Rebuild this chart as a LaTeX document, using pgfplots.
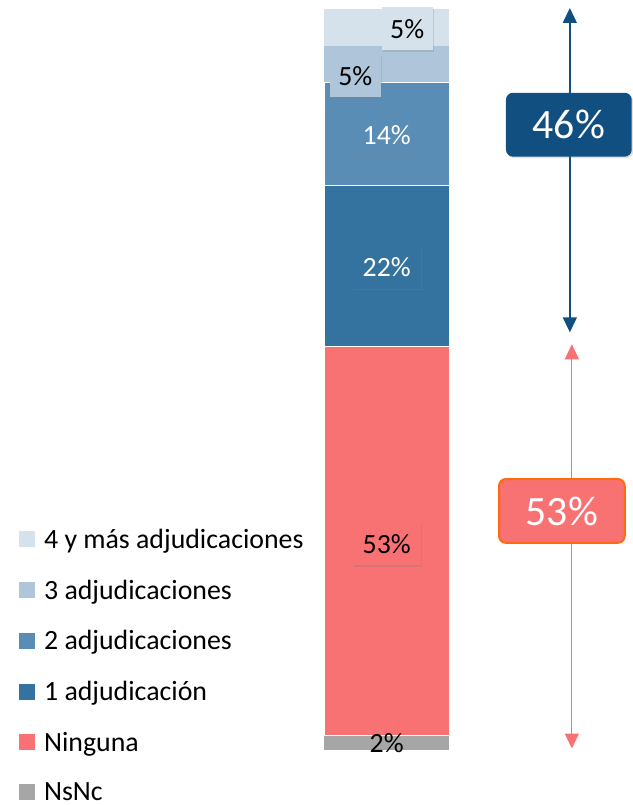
\documentclass[border=0pt]{standalone}
\usepackage{pgfplots}
\pgfplotsset{compat=1.18}
\usepackage{fontspec}
\setmainfont{Carlito}
\usetikzlibrary{arrows.meta,shadows}

\definecolor{cfour}{HTML}{D5E1EB}
\definecolor{cthree}{HTML}{AFC6DA}
\definecolor{ctwo}{HTML}{5A8DB6}
\definecolor{cone}{HTML}{34739F}
\definecolor{cnone}{HTML}{F87173}
\definecolor{cnsnc}{HTML}{A6A6A6}
\definecolor{darkbox}{HTML}{114F80}
\definecolor{orangeedge}{HTML}{FF6A10}

\begin{document}
\begin{tikzpicture}
\begin{axis}[
    scale only axis,
    width=634bp, height=805bp,
    xmin=0, xmax=634, ymin=-7.205, ymax=102.23,
    hide axis, clip=false,
    ybar stacked, bar width=125,
    legend style={draw=none, fill=none, at={(axis cs:16,30.6)}, anchor=north west,
        font=\fontsize{28}{32}\selectfont, row sep=28bp,
        nodes={inner sep=1bp},
        /tikz/every odd column/.append style={column sep=8bp}},
    legend cell align=left,
    reverse legend,
    legend image code/.code={\draw[#1,draw=none] (0bp,-8bp) rectangle (16bp,8bp);},
]
\addplot[fill=cnsnc, draw=none] coordinates {(387.5,2)};
\addlegendentry{NsNc}
\addplot[fill=cnone, draw=white, line width=0.8bp] coordinates {(387.5,53)};
\addlegendentry{Ninguna}
\addplot[fill=cone, draw=white, line width=0.8bp] coordinates {(387.5,22)};
\addlegendentry{1 adjudicación}
\addplot[fill=ctwo, draw=white, line width=0.8bp] coordinates {(387.5,14)};
\addlegendentry{2 adjudicaciones}
\addplot[fill=cthree, draw=none] coordinates {(387.5,5)};
\addlegendentry{3 adjudicaciones}
\addplot[fill=cfour, draw=none] coordinates {(387.5,5)};
\addlegendentry{4 y más adjudicaciones}

\path (axis cs:0,-7.205) rectangle (axis cs:634,102.23);

\coordinate (l4) at (axis cs:408,98.29);
\coordinate (l3) at (axis cs:356,91.90);
\coordinate (l2) at (axis cs:387.5,83.88);
\coordinate (l1) at (axis cs:387.5,65.80);
\coordinate (l0) at (axis cs:387.5,28.14);
\coordinate (ln) at (axis cs:387.5,0.95);
\coordinate (ba) at (axis cs:571,101.14);
\coordinate (bb) at (axis cs:571,56.96);
\coordinate (ra) at (axis cs:573,55.33);
\coordinate (rb) at (axis cs:573,0.27);
\coordinate (bbox) at (axis cs:570,85.24);
\coordinate (rbox) at (axis cs:563,32.63);
\end{axis}

\tikzset{lbl/.style={font=\fontsize{28}{30}\selectfont, inner sep=0pt,
    minimum height=43bp, drop shadow={opacity=0.25, shadow xshift=1.5bp, shadow yshift=-1.5bp}}}
\node[lbl, fill=cfour, minimum width=51bp] at (l4) {5\%};
\node[lbl, fill=cthree, minimum width=51bp] at (l3) {5\%};
\node[lbl, fill=ctwo, minimum width=68bp, text=white] at (l2) {14\%};
\node[lbl, fill=cone, minimum width=68bp, text=white] at (l1) {22\%};
\node[lbl, fill=cnone, minimum width=68bp] at (l0) {53\%};
\node[font=\fontsize{28}{30}\selectfont, inner sep=0pt] at (ln) {2\%};

\draw[darkbox, line width=1.5bp, {Triangle[width=14bp,length=15bp]}-{Triangle[width=14bp,length=15bp]}]
    (ba) -- (bb);
\draw[cnone, line width=1.2bp, {Triangle[width=14bp,length=15bp]}-{Triangle[width=14bp,length=15bp]}]
    (ra) -- (rb);

\node[fill=darkbox, rounded corners=7bp, minimum width=126bp, minimum height=64bp,
    text=white, font=\fontsize{42}{46}\selectfont, inner sep=0pt,
    drop shadow={opacity=0.25, shadow xshift=1.5bp, shadow yshift=-1.5bp}]
    at (bbox) {46\%};
\node[fill=cnone, draw=orangeedge, line width=2bp, rounded corners=7bp, minimum width=126bp,
    minimum height=64bp, text=white, font=\fontsize{42}{46}\selectfont, inner sep=0pt]
    at (rbox) {53\%};
\end{tikzpicture}
\end{document}
